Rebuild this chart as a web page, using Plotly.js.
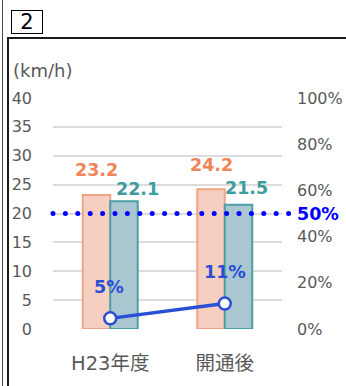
<!DOCTYPE html>
<html>
<head>
<meta charset="utf-8">
<script src="https://cdn.plot.ly/plotly-3.0.1.min.js"></script>
<style>
  html, body { margin: 0; padding: 0; background: #fff; }
  #wrap { position: relative; width: 346px; height: 386px; overflow: hidden; }
  #chart { position: absolute; left: 0; top: 0; width: 346px; height: 386px; }
  .frame { position: absolute; background: #1a1a1a; z-index: 5; }
  #numbox { position: absolute; left: 11px; top: 10px; width: 30px; height: 22px; border: 1px solid #000;
            font-family: 'DejaVu Sans', sans-serif; font-size: 21px; line-height: 22px; text-align: center; color: #000; z-index: 5; }
  .shapelayer path { stroke-linecap: round; }
</style>
</head>
<body>
<div id="wrap">
  <div id="chart"></div>
  <div class="frame" style="left:2px; top:0; width:1px; height:386px; background:#444;"></div>
  <div class="frame" style="left:7px; top:37px; width:2px; height:349px;"></div>
  <div class="frame" style="left:7px; top:37px; width:339px; height:2px;"></div>
  <div id="numbox">2</div>
</div>
<script>
// ---- data ----
const categories = ['H23年度', '開通後'];
const speedA = [23.2, 24.2];        // orange series (km/h)
const speedB = [22.1, 21.5];        // teal series (km/h)
const rate = [0.046, 0.11];         // line series (share)
const rateLabels = ['5%', '11%'];
const target = 0.5;                 // dotted reference line
const leftTicks = [0, 5, 10, 15, 20, 25, 30, 35, 40];
const rightTicks = [0, 0.2, 0.4, 0.6, 0.8, 1.0];
const unitLabel = '(km/h)';

// ---- styling ----
const orangeFill = '#f6cfc1', orangeLine = '#f0a386', orangeText = '#ee8559';
const tealFill = '#a9c6d1', tealLine = '#4aa0a3', tealText = '#3f9c9e';
const blue = '#2a4fd6';
const tickGray = '#595959';

const aOffsets = [[-13.75, 25], [-13.75, 24]];
const bOffsets = [[26.75, 12], [21.75, 17]];
const rateOffsets = [[-1, 31], [0, 31.5]];

const traces = [
  { type: 'bar', x: categories, y: speedA, marker: { color: orangeFill, line: { color: orangeLine, width: 2 } }, hoverinfo: 'skip' },
  { type: 'bar', x: categories, y: speedB, marker: { color: tealFill, line: { color: tealLine, width: 2 } }, hoverinfo: 'skip' },
  { type: 'scatter', mode: 'lines+markers', x: categories, y: rate, yaxis: 'y2',
    line: { color: blue, width: 3.5 },
    marker: { size: 12, color: '#ffffff', line: { color: blue, width: 2.5 } }, hoverinfo: 'skip' }
];

const annotations = [];
categories.forEach((c, i) => {
  annotations.push({ x: c, y: speedA[i], xref: 'x', yref: 'y', text: '<b>' + speedA[i].toFixed(1) + '</b>', showarrow: false,
    xshift: aOffsets[i][0], yshift: aOffsets[i][1], yanchor: 'middle',
    font: { family: 'DejaVu Sans', size: 17.5, color: orangeText } });
  annotations.push({ x: c, y: speedB[i], xref: 'x', yref: 'y', text: '<b>' + speedB[i].toFixed(1) + '</b>', showarrow: false,
    xshift: bOffsets[i][0], yshift: bOffsets[i][1], yanchor: 'middle',
    font: { family: 'DejaVu Sans', size: 17.5, color: tealText } });
  annotations.push({ x: c, y: rate[i], xref: 'x', yref: 'y2', text: '<b>' + rateLabels[i] + '</b>', showarrow: false,
    xshift: rateOffsets[i][0], yshift: rateOffsets[i][1], yanchor: 'middle',
    font: { family: 'DejaVu Sans', size: 17.5, color: blue } });
});
annotations.push({ xref: 'paper', yref: 'y2', x: 1.057, y: target, xanchor: 'left', yanchor: 'middle',
  text: '<b>' + Math.round(target * 100) + '%</b>', showarrow: false,
  font: { family: 'DejaVu Sans', size: 17.5, color: '#0000ff' } });
annotations.push({ xref: 'paper', yref: 'paper', x: -0.183, y: 1.121, xanchor: 'left', yanchor: 'middle',
  text: unitLabel, showarrow: false, font: { family: 'DejaVu Sans', size: 18, color: tickGray } });

const layout = {
  width: 346, height: 386,
  margin: { l: 53, r: 64, t: 98, b: 57, pad: 0 },
  paper_bgcolor: 'rgba(0,0,0,0)', plot_bgcolor: 'rgba(0,0,0,0)',
  showlegend: false,
  barmode: 'group', bargap: 0.52, bargroupgap: 0,
  font: { family: 'DejaVu Sans', color: tickGray },
  xaxis: { type: 'category', showgrid: false, showline: false, zeroline: false, ticks: '',
    tickfont: { family: 'DejaVu Sans, Noto Sans CJK JP', size: 19.5, color: tickGray },
    ticklabelstandoff: 20, fixedrange: true },
  yaxis: { range: [0, 40], tickvals: leftTicks, showgrid: true, gridcolor: '#dcdcdc', gridwidth: 2,
    zeroline: false, showline: false, ticks: '', tickfont: { size: 16, color: tickGray },
    ticklabelstandoff: 20, fixedrange: true },
  yaxis2: { range: [0, 1], overlaying: 'y', side: 'right', tickvals: rightTicks, tickformat: '.0%',
    showgrid: false, zeroline: false, showline: false, ticks: '', tickfont: { size: 16, color: tickGray },
    ticklabelstandoff: 14, fixedrange: true },
  shapes: [{ type: 'line', xref: 'paper', yref: 'y2', x0: 0, x1: 1.035, y0: target, y1: target, layer: 'above',
    line: { color: '#0000ff', width: 5, dash: '0px,12.4px' } }],
  annotations: annotations
};

Plotly.newPlot('chart', traces, layout, { staticPlot: true, displayModeBar: false });
</script>
</body>
</html>
